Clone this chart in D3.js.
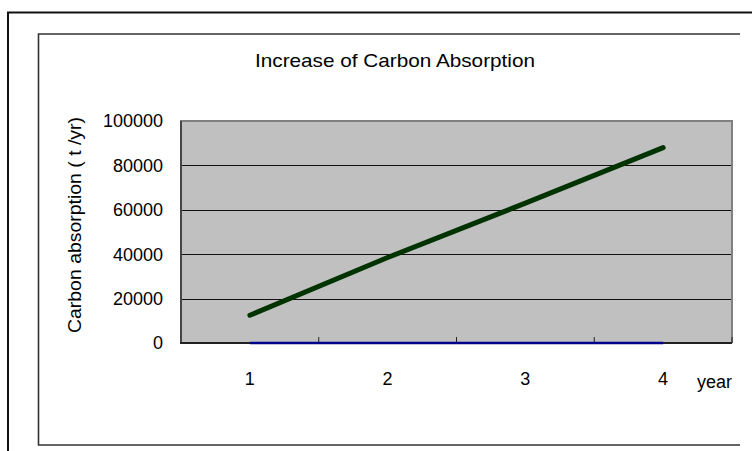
<!DOCTYPE html>
<html><head><meta charset="utf-8">
<script src="https://cdn.jsdelivr.net/npm/d3@7"></script>
<style>html,body{margin:0;padding:0;background:#fff;overflow:hidden}</style>
</head><body>
<svg id="c" width="752" height="451"></svg>
<script>
const categories = ["1","2","3","4"];
const absorption = [12500, 38500, 63000, 88000];
const baseline = [0, 0, 0, 0];
const yTicks = [0, 20000, 40000, 60000, 80000, 100000];

const svg = d3.select("#c");
const font = "'Liberation Sans', Arial, sans-serif";

// frames
svg.append("path").attr("d","M8,460V12.5H760").attr("fill","none").attr("stroke","#111").attr("stroke-width",2);
svg.append("path").attr("d","M740,34H38.5V445H740").attr("fill","none").attr("stroke","#333").attr("stroke-width",1.6);

const L=181, R=732, T=121, B=343;
const x = d3.scaleBand().domain(categories).range([L,R]);
const y = d3.scaleLinear().domain([0,100000]).range([B,T]);

svg.append("rect").attr("x",L).attr("y",T).attr("width",R-L).attr("height",B-T).attr("fill","#c0c0c0");

// gridlines
svg.append("g").selectAll("line").data(yTicks.filter(d=>d>0 && d<100000)).join("line")
  .attr("x1",L).attr("x2",R).attr("y1",d=>Math.round(y(d))+0.5).attr("y2",d=>Math.round(y(d))+0.5)
  .attr("stroke","#111").attr("stroke-width",1);

// plot border
svg.append("path").attr("d",`M${L},${B}V${T}H${R}V${B}`).attr("fill","none").attr("stroke","#808080").attr("stroke-width",2);
svg.append("line").attr("x1",L).attr("x2",L).attr("y1",T).attr("y2",B).attr("stroke","#333").attr("stroke-width",1.5);

// y axis labels
svg.append("g").selectAll("text").data(yTicks).join("text")
  .attr("x",163).attr("y",d=>y(d)).attr("dy","0.36em").attr("text-anchor","end")
  .attr("font-family",font).attr("font-size",18).attr("fill","#000").text(d=>d);

// x axis ticks (between categories)
const tickPos = categories.slice(1).map(c=>x(c)).concat([R]);
svg.append("g").selectAll("line").data(tickPos).join("line")
  .attr("x1",d=>d).attr("x2",d=>d).attr("y1",B).attr("y2",B-6).attr("stroke","#222").attr("stroke-width",1);

// x axis line
svg.append("line").attr("x1",L-1).attr("x2",R).attr("y1",B).attr("y2",B).attr("stroke","#222").attr("stroke-width",2);

const cx = d=>x(d)+x.bandwidth()/2;

// blue zero series
svg.append("path").datum(baseline)
  .attr("d",d3.line().x((d,i)=>cx(categories[i])).y(d=>y(d)))
  .attr("fill","none").attr("stroke","#00008b").attr("stroke-width",2.5);

// green series
svg.append("path").datum(absorption)
  .attr("d",d3.line().x((d,i)=>cx(categories[i])).y(d=>y(d)))
  .attr("fill","none").attr("stroke","#003300").attr("stroke-width",5).attr("stroke-linecap","round").attr("stroke-linejoin","round");

// x labels
svg.append("g").selectAll("text").data(categories).join("text")
  .attr("x",d=>cx(d)).attr("y",385).attr("text-anchor","middle")
  .attr("font-family",font).attr("font-size",18).attr("fill","#000").text(d=>d);

svg.append("text").attr("x",697).attr("y",388).attr("font-family",font).attr("font-size",18).text("year");

// title
svg.append("text").attr("x",255).attr("y",67)
  .attr("font-family",font).attr("font-size",18.5)
  .attr("textLength",280).attr("lengthAdjust","spacingAndGlyphs").text("Increase of Carbon Absorption");

// y title
svg.append("text").attr("transform","translate(81,333) rotate(-90)")
  .attr("font-family",font).attr("font-size",18)
  .attr("textLength",216).attr("lengthAdjust","spacingAndGlyphs").text("Carbon absorption ( t /yr)");
</script>
</body></html>
